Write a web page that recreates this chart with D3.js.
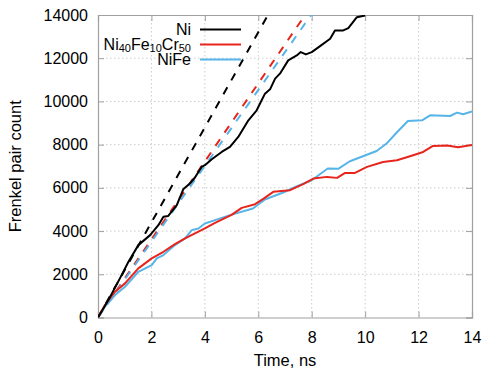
<!DOCTYPE html>
<html><head><meta charset="utf-8">
<script src="https://cdn.jsdelivr.net/npm/d3@7"></script>
<style>body{margin:0;background:#fff}text{font-family:"Liberation Sans",Arial,sans-serif}</style>
</head><body>
<svg id="c" width="484" height="374"></svg>
<script>
const niTime = [0,0.39,0.82,1.14,1.51,1.95,2.26,2.45,2.63,2.95,3.19,3.44,3.63,3.88,4.0,4.26,4.63,4.94,5.25,5.63,5.94,6.25,6.44,6.63,6.81,7.12,7.44,7.59,7.78,8.0,8.3,8.69,8.87,9.18,9.37,9.69,10.0];
const niValues = [0,808,1811,2580,3350,3812,4274,4659,4700,5199,5930,6201,6479,6970,7047,7324,7662,7893,8355,9127,9589,10360,10559,11054,11285,11900,12130,12283,12176,12283,12550,12902,13285,13285,13392,13900,13978];
const crTime = [0,0.26,0.64,1.01,1.51,2.01,2.45,2.88,3.26,3.63,4.0,4.38,5.0,5.38,5.88,6.2,6.56,7.19,7.68,8.06,8.57,8.95,9.25,9.62,10.07,10.67,11.19,11.68,12.17,12.54,13.07,13.48,14.0];
const crValues = [0,578,1194,1580,2273,2736,3041,3396,3659,3891,4122,4381,4750,5074,5245,5500,5815,5893,6170,6432,6508,6462,6693,6693,6970,7200,7280,7464,7662,7940,7960,7880,7987];
const feTime = [0,0.26,0.64,1.01,1.51,2.01,2.2,2.45,2.88,3.26,3.51,3.76,4.0,4.38,4.94,5.8,6.25,6.93,7.45,8.0,8.6,8.99,9.43,10.43,10.8,11.2,11.6,12.13,12.43,13.18,13.44,13.67,14.0];
const feValues = [0,500,1040,1425,2116,2426,2736,2888,3350,3659,4043,4122,4353,4506,4737,5046,5462,5785,6077,6354,6894,6880,7232,7708,8050,8586,9095,9127,9358,9326,9482,9404,9540];
const fitSlopes = [2200,1806,1755];
const seriesNames = ["Ni","Ni40Fe10Cr50","NiFe"];
const colors = ["#000000","#e8251c","#56b4e9"];
const xTicks = [0,2,4,6,8,10,12,14];
const yTicks = [0,2000,4000,6000,8000,10000,12000,14000];

const svg = d3.select("#c");
const L=98,R=472,T=15,B=317.5;
const x = d3.scaleLinear().domain([0,14]).range([L,R]);
const y = d3.scaleLinear().domain([0,14000]).range([B,T]);
const FS="16px";

const g = svg.append("g");
g.selectAll(".gx").data(xTicks.slice(1,-1)).enter().append("line")
 .attr("x1",d=>x(d)).attr("x2",d=>x(d)).attr("y1",T).attr("y2",B)
 .attr("stroke","#cccccc").attr("stroke-width",1).attr("stroke-dasharray","1.5,2.5");
g.selectAll(".gy").data(yTicks.slice(1,-1)).enter().append("line")
 .attr("x1",L).attr("x2",R).attr("y1",d=>y(d)).attr("y2",d=>y(d))
 .attr("stroke","#cccccc").attr("stroke-width",1).attr("stroke-dasharray","1.5,2.5");

const tickCol="#a0a0a0";
const fmt=d3.format("d");
const ax = svg.append("g").attr("transform",`translate(0,${B})`).call(d3.axisBottom(x).tickValues(xTicks).tickSize(-6).tickPadding(14).tickFormat(fmt));
const axT = svg.append("g").attr("transform",`translate(0,${T})`).call(d3.axisTop(x).tickValues(xTicks).tickSize(-6).tickFormat(""));
const ay = svg.append("g").attr("transform",`translate(${L},0)`).call(d3.axisLeft(y).tickValues(yTicks).tickSize(-6).tickPadding(10).tickFormat(fmt));
const ayR = svg.append("g").attr("transform",`translate(${R},0)`).call(d3.axisRight(y).tickValues(yTicks).tickSize(-6).tickFormat(""));
[ax,axT,ay,ayR].forEach(a=>{
  a.attr("font-size",null).attr("font-family",null);
  a.selectAll("path").attr("stroke",tickCol).attr("stroke-width",1.2);
  a.selectAll("line").attr("stroke",tickCol);
  a.selectAll("text").attr("fill","#000").style("font-size",FS);
});

svg.append("clipPath").attr("id","clip").append("rect").attr("x",L).attr("y",T).attr("width",R-L).attr("height",B-T);
const plot = svg.append("g").attr("clip-path","url(#clip)");

fitSlopes.forEach((s,i)=>{
  const pts=[[0,0],[14,s*14]];
  plot.append("path").datum(pts)
   .attr("d",d3.line().x(d=>x(d[0])).y(d=>y(d[1])))
   .attr("fill","none").attr("stroke",colors[i]).attr("stroke-width",2).attr("stroke-dasharray","8,8");
});
const line=d3.line().x(d=>x(d[0])).y(d=>y(d[1]));
const series=[[niTime,niValues],[crTime,crValues],[feTime,feValues]];
[2,1,0].forEach(i=>{
  const pts=series[i][0].map((t,k)=>[t,series[i][1][k]]);
  plot.append("path").datum(pts).attr("d",line).attr("fill","none")
   .attr("stroke",colors[i]).attr("stroke-width",2).attr("stroke-linejoin","round");
});

const leg=svg.append("g");
const ly=[29.5,44.5,59.5];
seriesNames.forEach((n,i)=>{
  leg.append("line").attr("x1",200).attr("x2",241).attr("y1",ly[i]).attr("y2",ly[i]).attr("stroke",colors[i]).attr("stroke-width",2);
  const t=leg.append("text").attr("x",191).attr("y",ly[i]+5.5).attr("text-anchor","end").style("font-size",FS);
  if(i===1){
    t.append("tspan").text("Ni");
    t.append("tspan").text("40").attr("dy",2).style("font-size","11px");
    t.append("tspan").text("Fe").attr("dy",-2);
    t.append("tspan").text("10").attr("dy",2).style("font-size","11px");
    t.append("tspan").text("Cr").attr("dy",-2);
    t.append("tspan").text("50").attr("dy",2).style("font-size","11px");
  } else t.text(n);
});

svg.append("text").attr("x",(L+R)/2).attr("y",366).attr("text-anchor","middle").style("font-size","16.5px").text("Time, ns");
svg.append("text").attr("transform",`translate(21,${(T+B)/2}) rotate(-90)`).attr("text-anchor","middle").style("font-size","16.5px").text("Frenkel pair count");
</script>
</body></html>
